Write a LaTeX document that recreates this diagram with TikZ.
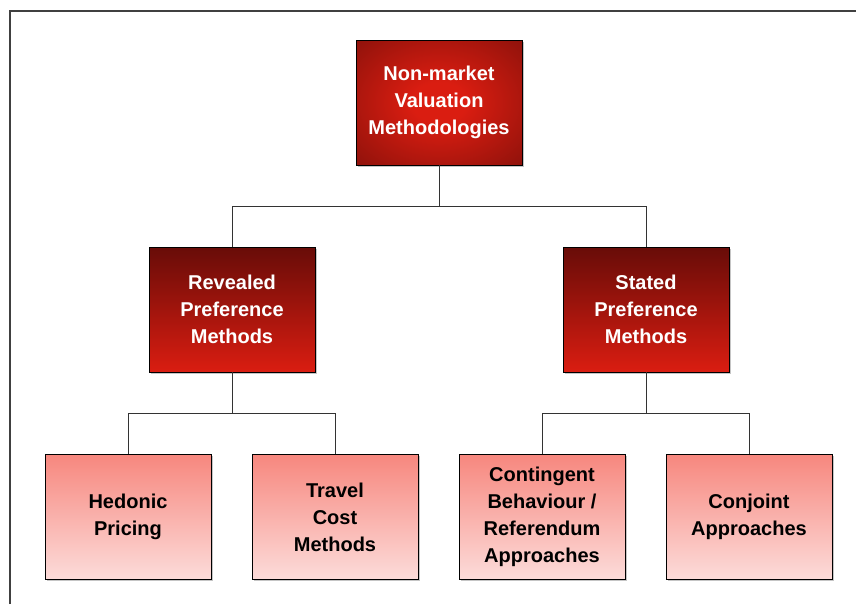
\documentclass[tikz,border=0pt]{standalone}
\usepackage{fontspec}
\setmainfont{Liberation Sans}
\usetikzlibrary{shadows}
\definecolor{merahtua}{HTML}{680C08}
\definecolor{merahterang}{HTML}{DA1D11}
\definecolor{merahmuda}{HTML}{F7877E}
\definecolor{merahpucat}{HTML}{FCDCDA}
\pgfdeclareradialshading{sinar}{\pgfpoint{0bp}{0bp}}{color(0bp)=(merahterang);
  color(8bp)=(merahterang); color(50bp)=(merahtua); color(71bp)=(merahtua)}
\begin{document}
\begin{tikzpicture}[x=0.75pt,y=-0.75pt,
      kotak/.style={draw=black,line width=0.7pt,align=center,
        minimum width=124.5pt,minimum height=93.75pt,inner sep=2pt,
        font=\fontsize{15}{20.25}\selectfont\bfseries,
        drop shadow={shadow xshift=1.2pt,shadow yshift=-1.2pt,fill=black!45}},
      akar/.style={kotak,shading=sinar,text=white},
      cabang/.style={kotak,top color=merahtua,bottom color=merahterang,text=white},
      ujung/.style={kotak,top color=merahmuda,bottom color=merahpucat,text=black},
      garis/.style={draw=black!80,line width=0.7pt}]
    \useasboundingbox (0,0) rectangle (856,604);

    % bingkai
    \draw[black!75,line width=1.2pt] (10,604) -- (10,11) -- (856,11);

    % tingkat 1
    \node[akar] (nm) at (439,102.5) {Non-market\\Valuation\\Methodologies};

    % tingkat 2
    \node[cabang] (rp) at (232,309.5) {Revealed\\Preference\\Methods};
    \node[cabang] (sp) at (646,309.5) {Stated\\Preference\\Methods};

    % tingkat 3
    \node[ujung] (hp) at (128,517) {Hedonic\\Pricing};
    \node[ujung] (tc) at (335,517) {Travel\\Cost\\Methods};
    \node[ujung] (cb) at (542,517) {Contingent\\Behaviour /\\Referendum\\Approaches};
    \node[ujung] (ca) at (749,517) {Conjoint\\Approaches};

    % penghubung
    \draw[garis] (nm.south) -- ++(0,41) -| (rp.north);
    \draw[garis] (nm.south) -- ++(0,41) -| (sp.north);
    \draw[garis] (rp.south) -- ++(0,41) -| (hp.north);
    \draw[garis] (rp.south) -- ++(0,41) -| (tc.north);
    \draw[garis] (sp.south) -- ++(0,41) -| (cb.north);
    \draw[garis] (sp.south) -- ++(0,41) -| (ca.north);
  \end{tikzpicture}
\end{document}
